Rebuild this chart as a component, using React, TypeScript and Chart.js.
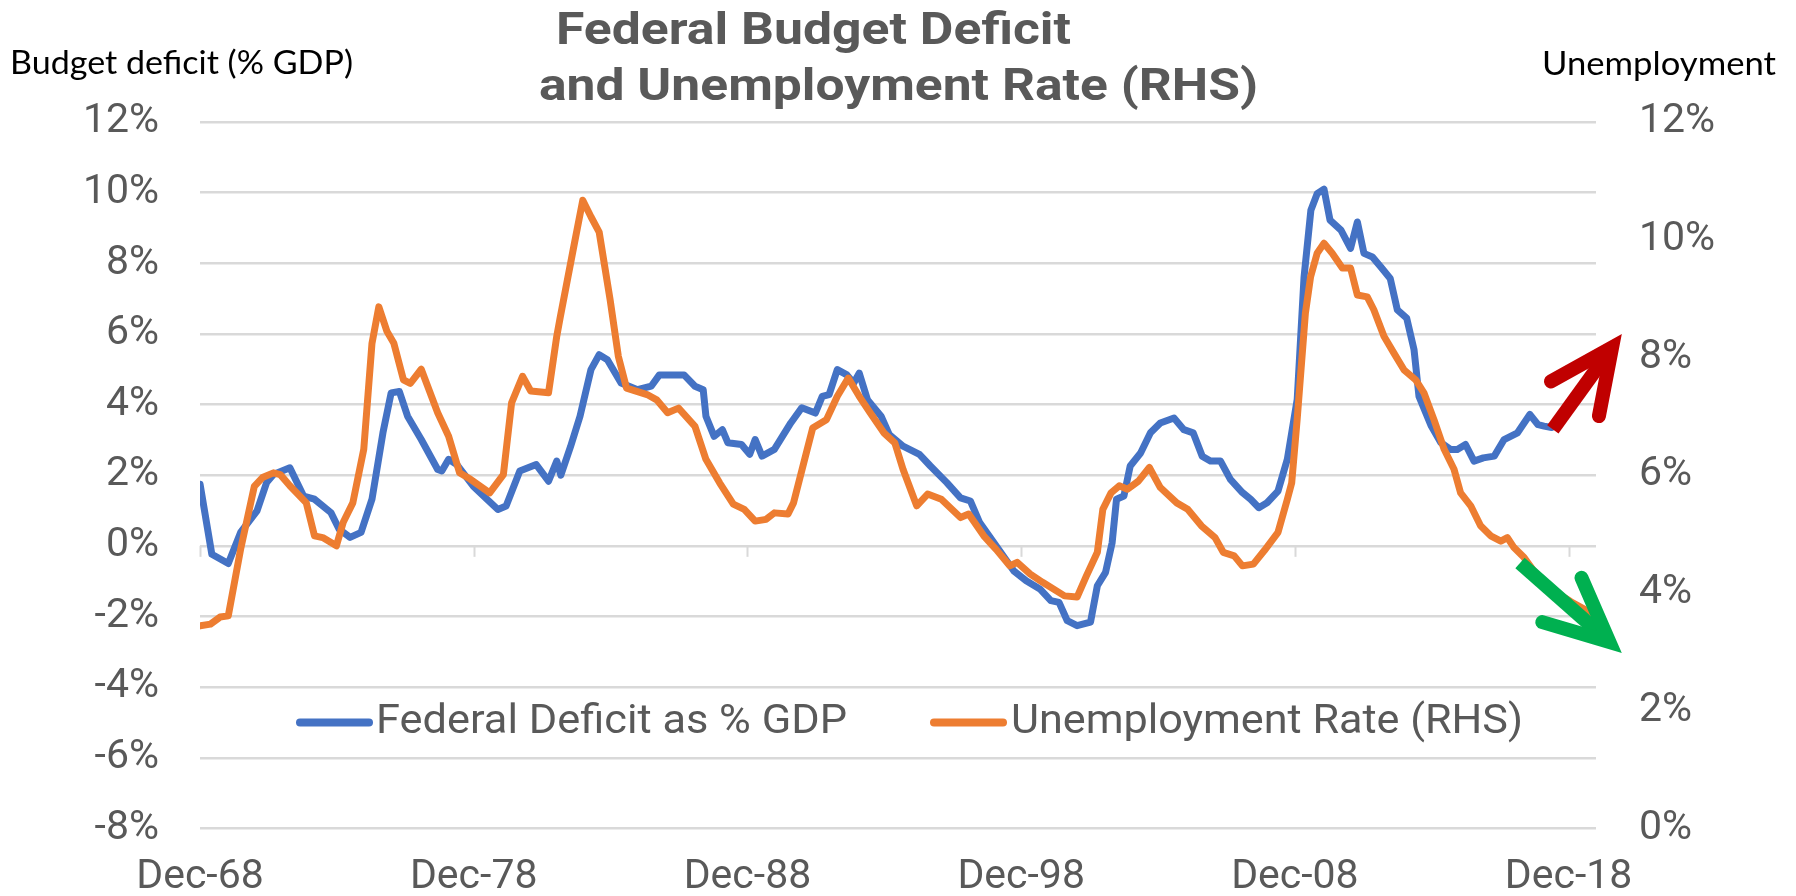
import React, { useEffect, useRef } from "react";
import { Chart, registerables } from "chart.js";

Chart.register(...registerables);

// ---- Data (decimal year, value) ----
const deficitYears = [
  1968.92, 1969.35, 1969.95, 1970.4, 1971.0, 1971.35, 1971.6, 1972.2, 1972.7, 1973.1,
  1973.7, 1974.0, 1974.4, 1974.8, 1975.2, 1975.6, 1975.9, 1976.2, 1976.5, 1977.0,
  1977.6, 1977.75, 1978.0, 1978.3, 1978.9, 1979.4, 1979.8, 1980.1, 1980.6, 1981.2,
  1981.65, 1981.95, 1982.1, 1982.45, 1982.8, 1983.2, 1983.5, 1983.8, 1984.3, 1984.9,
  1985.4, 1985.7, 1986.6, 1987.0, 1987.3, 1987.4, 1987.7, 1988.0, 1988.2, 1988.7,
  1989.0, 1989.2, 1989.45, 1989.9, 1990.5, 1990.9, 1991.4, 1991.65, 1991.9, 1992.2,
  1992.55, 1992.8, 1993.0, 1993.3, 1993.8, 1994.1, 1994.6, 1995.2, 1995.6, 1996.2,
  1996.7, 1997.06, 1997.4, 1998.0, 1998.65, 1999.1, 1999.6, 2000.0, 2000.3, 2000.6,
  2000.96, 2001.45, 2001.7, 2002.0, 2002.24, 2002.4, 2002.67, 2002.9, 2003.28, 2003.64,
  2004.0, 2004.5, 2004.86, 2005.2, 2005.53, 2005.83, 2006.2, 2006.56, 2007.0, 2007.3,
  2007.6, 2007.9, 2008.3, 2008.64, 2009.0, 2009.25, 2009.5, 2009.73, 2009.98, 2010.2,
  2010.6, 2010.95, 2011.2, 2011.44, 2011.75, 2012.05, 2012.4, 2012.66, 2013.0, 2013.27,
  2013.45, 2013.9, 2014.25, 2014.6, 2014.85, 2015.15, 2015.46, 2015.8, 2016.2, 2016.56,
  2017.05, 2017.5, 2017.8, 2018.02, 2018.3, 2018.7, 2019.2, 2019.6, 2019.9,
];
const deficitValues = [
  1.74, -0.24, -0.5, 0.38, 0.99, 1.79, 2.02, 2.21, 1.41, 1.32,
  0.94, 0.47, 0.24, 0.38, 1.32, 3.2, 4.33, 4.37, 3.67, 3.01,
  2.16, 2.12, 2.45, 2.3, 1.69, 1.32, 1.03, 1.13, 2.12, 2.3,
  1.83, 2.4, 2.0, 2.8, 3.67, 4.99, 5.41, 5.27, 4.61, 4.42,
  4.52, 4.84, 4.84, 4.52, 4.42, 3.67, 3.1, 3.29, 2.92, 2.87,
  2.59, 3.01, 2.54, 2.73, 3.48, 3.91, 3.76, 4.23, 4.28, 4.99,
  4.84, 4.61, 4.89, 4.14, 3.67, 3.15, 2.82, 2.59, 2.26, 1.79,
  1.36, 1.27, 0.66, 0.0, -0.71, -0.99, -1.22, -1.55, -1.6, -2.12,
  -2.26, -2.16, -1.13, -0.75, 0.09, 1.32, 1.41, 2.26, 2.63, 3.2,
  3.48, 3.62, 3.29, 3.2, 2.54, 2.4, 2.4, 1.88, 1.51, 1.32,
  1.08, 1.22, 1.55, 2.45, 4.14, 7.6, 9.5, 9.97, 10.1, 9.22,
  8.94, 8.42, 9.17, 8.28, 8.18, 7.9, 7.57, 6.68, 6.45, 5.55,
  4.23, 3.39, 2.92, 2.73, 2.73, 2.87, 2.4, 2.49, 2.54, 3.01,
  3.2, 3.72, 3.43, 3.39, 3.35, 3.7, 4.2, 4.6, 4.8,
];

const unempYears = [
  1968.92, 1969.3, 1969.65, 1969.95, 1970.4, 1970.9, 1971.2, 1971.6, 1971.85, 1972.2,
  1972.8, 1973.1, 1973.4, 1973.9, 1974.15, 1974.5, 1974.9, 1975.2, 1975.45, 1975.75,
  1976.0, 1976.35, 1976.6, 1977.0, 1977.6, 1978.0, 1978.4, 1978.8, 1979.5, 1980.0,
  1980.3, 1980.7, 1981.0, 1981.65, 1981.95, 1982.08, 1982.55, 1982.9, 1983.2, 1983.5,
  1983.9, 1984.2, 1984.5, 1985.25, 1985.6, 1986.0, 1986.4, 1987.0, 1987.4, 1987.9,
  1988.4, 1988.8, 1989.2, 1989.6, 1989.9, 1990.4, 1990.6, 1991.1, 1991.3, 1991.8,
  1992.2, 1992.6, 1993.0, 1993.4, 1993.9, 1994.3, 1994.6, 1995.1, 1995.5, 1996.0,
  1996.7, 1997.0, 1997.55, 1998.0, 1998.5, 1998.77, 1999.25, 1999.7, 2000.5, 2000.96,
  2001.3, 2001.7, 2001.9, 2002.2, 2002.5, 2002.8, 2003.2, 2003.6, 2004.0, 2004.6,
  2005.0, 2005.5, 2006.0, 2006.3, 2006.7, 2007.0, 2007.4, 2007.8, 2008.3, 2008.64,
  2008.8, 2009.0, 2009.3, 2009.49, 2009.73, 2009.98, 2010.28, 2010.65, 2010.95, 2011.2,
  2011.56, 2011.8, 2012.17, 2012.54, 2012.9, 2013.33, 2013.63, 2014.0, 2014.37, 2014.73,
  2014.97, 2015.34, 2015.7, 2016.07, 2016.44, 2016.68, 2016.92, 2017.29, 2017.6, 2018.0,
  2018.5, 2019.0, 2019.5, 2019.8,
];
const unempValues = [
  3.44, 3.47, 3.59, 3.61, 4.74, 5.81, 5.96, 6.04, 6.01, 5.82,
  5.53, 4.97, 4.94, 4.8, 5.2, 5.53, 6.44, 8.24, 8.86, 8.44,
  8.24, 7.62, 7.56, 7.8, 7.06, 6.66, 6.04, 5.93, 5.7, 6.01,
  7.23, 7.68, 7.43, 7.4, 8.36, 8.69, 9.83, 10.67, 10.39, 10.13,
  8.98, 8.02, 7.48, 7.37, 7.28, 7.06, 7.14, 6.83, 6.27, 5.87,
  5.51, 5.42, 5.22, 5.25, 5.36, 5.34, 5.53, 6.44, 6.8, 6.94,
  7.34, 7.65, 7.34, 7.06, 6.72, 6.55, 6.1, 5.48, 5.68, 5.59,
  5.28, 5.34, 4.97, 4.74, 4.46, 4.52, 4.32, 4.18, 3.95, 3.93,
  4.29, 4.69, 5.42, 5.7, 5.82, 5.76, 5.9, 6.13, 5.79, 5.53,
  5.42, 5.14, 4.94, 4.69, 4.63, 4.46, 4.49, 4.72, 5.03, 5.59,
  5.87, 6.95, 8.75, 9.37, 9.77, 9.94, 9.77, 9.52, 9.52, 9.06,
  9.03, 8.81, 8.36, 8.07, 7.79, 7.62, 7.4, 6.94, 6.44, 6.1,
  5.7, 5.48, 5.14, 4.97, 4.88, 4.94, 4.77, 4.6, 4.4, 4.2,
  4.0, 3.85, 3.72, 3.66,
];

const xTickValues = [1968.917, 1978.917, 1988.917, 1998.917, 2008.917, 2018.917];
const xTickLabels = ["Dec-68", "Dec-78", "Dec-88", "Dec-98", "Dec-08", "Dec-18"];
const xRange = [1968.917, 2019.917];
const leftRange = [-8, 12];
const rightRange = [0, 12];
const seriesNames = ["Federal Deficit as % GDP", "Unemployment Rate (RHS)"];
const titleLines = ["Federal Budget Deficit", "and Unemployment Rate (RHS)"];
const leftAxisTitle = "Budget deficit (% GDP)";
const rightAxisTitle = "Unemployment";
// annotation arrows: [year, value] on the given axis
const redArrow = { axis: "yL", from: [2018.34, 3.3], to: [2020.86, 6.0] };
const greenArrow = { axis: "yR", from: [2017.14, 4.51], to: [2020.86, 2.98] };

const BLUE = "#4472C4";
const ORANGE = "#ED7D31";
const GRID = "#D9D9D9";
const TEXT = "#595959";
const FONT = "Roboto, 'Noto Sans', sans-serif";

function toPoints(xs: number[], ys: number[]) {
  return xs.map((x, i) => ({ x, y: ys[i] }));
}

function drawFitted(
  ctx: CanvasRenderingContext2D,
  text: string,
  x: number,
  baseline: number,
  font: string,
  color: string,
  width: number
) {
  ctx.save();
  ctx.font = font;
  ctx.fillStyle = color;
  ctx.textAlign = "left";
  ctx.textBaseline = "alphabetic";
  const w = ctx.measureText(text).width;
  ctx.translate(x, baseline);
  ctx.scale(width / w, 1);
  ctx.fillText(text, 0, 0);
  ctx.restore();
}

function drawArrow(ctx: CanvasRenderingContext2D, x1: number, y1: number, x2: number, y2: number, color: string) {
  const ang = Math.atan2(y2 - y1, x2 - x1);
  const lw = 14;
  const half = (25 * Math.PI) / 180;
  const headLen = 70;
  // vertex pulled back so that the mitred tip lands at (x2, y2)
  const back = lw / 2 / Math.sin(half);
  const vx = x2 - Math.cos(ang) * back;
  const vy = y2 - Math.sin(ang) * back;
  ctx.save();
  ctx.strokeStyle = color;
  ctx.lineWidth = lw;
  ctx.lineCap = "butt";
  ctx.beginPath();
  ctx.moveTo(x1, y1);
  ctx.lineTo(vx - Math.cos(ang) * 4, vy - Math.sin(ang) * 4);
  ctx.stroke();
  ctx.lineCap = "round";
  ctx.lineJoin = "miter";
  ctx.miterLimit = 10;
  ctx.beginPath();
  ctx.moveTo(vx - Math.cos(ang - half) * headLen, vy - Math.sin(ang - half) * headLen);
  ctx.lineTo(vx, vy);
  ctx.lineTo(vx - Math.cos(ang + half) * headLen, vy - Math.sin(ang + half) * headLen);
  ctx.stroke();
  ctx.restore();
}

const decorPlugin = {
  id: "decor",
  beforeDatasetsDraw(chart: any) {
    const ctx = chart.ctx as CanvasRenderingContext2D;
    const xs = chart.scales.x;
    const yl = chart.scales.yL;
    const y0 = yl.getPixelForValue(0);
    ctx.save();
    ctx.strokeStyle = GRID;
    ctx.lineWidth = 2;
    xTickValues.forEach((v) => {
      const px = Math.round(xs.getPixelForValue(v)) + 0.5;
      ctx.beginPath();
      ctx.moveTo(px, y0);
      ctx.lineTo(px, y0 + 11);
      ctx.stroke();
    });
    ctx.restore();
  },
  afterDatasetsDraw(chart: any) {
    const ctx = chart.ctx as CanvasRenderingContext2D;
    const xs = chart.scales.x;
    const yl = chart.scales.yL;

    // legend (inside plot area)
    const ly = yl.getPixelForValue(-5);
    const items = [
      { color: BLUE, x: 297, tx: 376, w: 471, label: seriesNames[0] },
      { color: ORANGE, x: 931, tx: 1011, w: 512, label: seriesNames[1] },
    ];
    items.forEach((it) => {
      ctx.save();
      ctx.strokeStyle = it.color;
      ctx.lineWidth = 8;
      ctx.lineCap = "round";
      ctx.beginPath();
      ctx.moveTo(it.x + 3, ly);
      ctx.lineTo(it.x + 72, ly);
      ctx.stroke();
      ctx.restore();
      drawFitted(ctx, it.label, it.tx, ly + 11, `41px ${FONT}`, TEXT, it.w);
    });

    // arrows
    [
      { a: redArrow, c: "#C00000" },
      { a: greenArrow, c: "#00B050" },
    ].forEach(({ a, c }) => {
      const ys = chart.scales[a.axis];
      drawArrow(
        ctx,
        xs.getPixelForValue(a.from[0]),
        ys.getPixelForValue(a.from[1]),
        xs.getPixelForValue(a.to[0]),
        ys.getPixelForValue(a.to[1]),
        c
      );
    });
  },
  afterDraw(chart: any) {
    const ctx = chart.ctx as CanvasRenderingContext2D;
    drawFitted(ctx, titleLines[0], 556, 44, `bold 44px ${FONT}`, TEXT, 515);
    drawFitted(ctx, titleLines[1], 539, 100, `bold 44px ${FONT}`, TEXT, 719);
    drawFitted(ctx, leftAxisTitle, 10, 74, `33px Lato, 'Open Sans', sans-serif`, "#000000", 343);
    drawFitted(ctx, rightAxisTitle, 1542, 75, `33px Lato, 'Open Sans', sans-serif`, "#000000", 234);
  },
};

export default function App() {
  const canvasRef = useRef<HTMLCanvasElement | null>(null);

  useEffect(() => {
    document.body.style.margin = "0";
    const canvas = canvasRef.current;
    if (!canvas) return;
    const chart = new Chart(canvas, {
      type: "line",
      data: {
        datasets: [
          {
            label: seriesNames[0],
            data: toPoints(deficitYears, deficitValues),
            yAxisID: "yL",
            borderColor: BLUE,
            borderWidth: 7,
            pointRadius: 0,
            tension: 0,
            borderJoinStyle: "round",
            borderCapStyle: "round",
            order: 1,
          },
          {
            label: seriesNames[1],
            data: toPoints(unempYears, unempValues),
            yAxisID: "yR",
            borderColor: ORANGE,
            borderWidth: 7,
            pointRadius: 0,
            tension: 0,
            borderJoinStyle: "round",
            borderCapStyle: "round",
            order: 0,
          },
        ],
      },
      options: {
        animation: false,
        responsive: false,
        devicePixelRatio: 1,
        layout: { padding: { top: 122, left: 0, right: 0, bottom: 0 } },
        plugins: {
          legend: { display: false },
          title: { display: false },
          tooltip: { enabled: false },
        },
        scales: {
          x: {
            type: "linear",
            min: xRange[0],
            max: xRange[1],
            afterBuildTicks: (scale: any) => {
              scale.ticks = xTickValues.map((v) => ({ value: v }));
            },
            afterFit: (scale: any) => {
              scale.height = 67;
            },
            grid: { display: false, drawTicks: false },
            border: { display: false },
            ticks: {
              padding: 25,
              maxRotation: 0,
              autoSkip: false,
              color: TEXT,
              font: { family: FONT, size: 41 },
              callback: (v: any) => {
                const i = xTickValues.findIndex((t) => Math.abs(t - Number(v)) < 0.01);
                return i >= 0 ? xTickLabels[i] : "";
              },
            },
          },
          yL: {
            type: "linear",
            position: "left",
            min: leftRange[0],
            max: leftRange[1],
            afterFit: (scale: any) => {
              scale.width = 200;
            },
            grid: { color: GRID, lineWidth: 2.5, drawTicks: false },
            border: { display: false },
            ticks: {
              stepSize: 2,
              padding: 41,
              color: TEXT,
              font: { family: FONT, size: 41 },
              callback: (v: any) => `${v}%`,
            },
          },
          yR: {
            type: "linear",
            position: "right",
            min: rightRange[0],
            max: rightRange[1],
            afterFit: (scale: any) => {
              scale.width = 200;
            },
            grid: { display: false, drawTicks: false },
            border: { display: false },
            ticks: {
              stepSize: 2,
              padding: 43,
              color: TEXT,
              font: { family: FONT, size: 41 },
              callback: (v: any) => `${v}%`,
            },
          },
        },
      },
      plugins: [decorPlugin],
    });
    return () => chart.destroy();
  }, []);

  return (
    <div style={{ position: "absolute", left: 0, top: 0, width: 1796, height: 896, background: "#ffffff" }}>
      <canvas ref={canvasRef} width={1796} height={896} style={{ width: 1796, height: 896, display: "block" }} />
    </div>
  );
}
